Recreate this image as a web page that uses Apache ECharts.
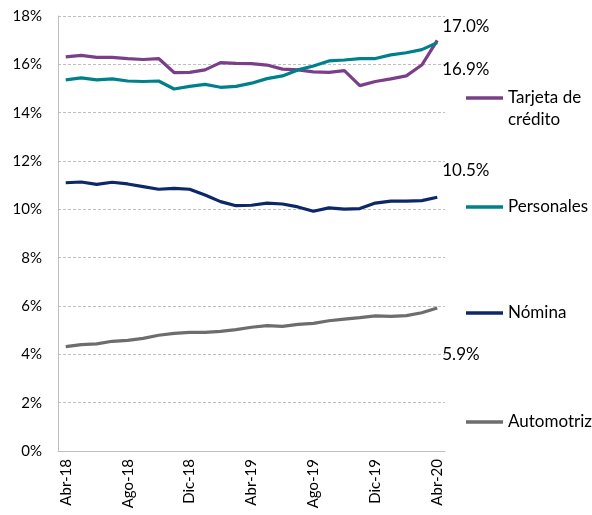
<!DOCTYPE html>
<html>
<head>
<meta charset="utf-8">
<script src="https://cdn.jsdelivr.net/npm/echarts@6/dist/echarts.min.js"></script>
<style>
  html, body { margin: 0; padding: 0; background: #fff; }
  #chart { width: 592px; height: 515px; }
</style>
</head>
<body>
<div id="chart"></div>
<script>
// months, Abr-18 .. Abr-20
const months = [
  'Abr-18', 'May-18', 'Jun-18', 'Jul-18', 'Ago-18', 'Sep-18', 'Oct-18', 'Nov-18', 'Dic-18',
  'Ene-19', 'Feb-19', 'Mar-19', 'Abr-19', 'May-19', 'Jun-19', 'Jul-19', 'Ago-19', 'Sep-19',
  'Oct-19', 'Nov-19', 'Dic-19', 'Ene-20', 'Feb-20', 'Mar-20', 'Abr-20'
];

// rates, %
const tarjeta = [16.31, 16.37, 16.29, 16.29, 16.24, 16.20, 16.24, 15.66, 15.67, 15.77, 16.07, 16.04, 16.03,
  15.97, 15.80, 15.77, 15.69, 15.67, 15.74, 15.12, 15.29, 15.40, 15.52, 15.97, 16.99];
const personales = [15.36, 15.44, 15.36, 15.40, 15.31, 15.29, 15.31, 14.98, 15.09, 15.17, 15.05, 15.09, 15.22,
  15.41, 15.52, 15.77, 15.93, 16.14, 16.18, 16.24, 16.24, 16.39, 16.48, 16.61, 16.90];
const nomina = [11.10, 11.13, 11.03, 11.12, 11.05, 10.94, 10.83, 10.87, 10.83, 10.59, 10.32, 10.15, 10.17,
  10.26, 10.22, 10.10, 9.92, 10.06, 10.01, 10.03, 10.26, 10.34, 10.34, 10.36, 10.50];
const automotriz = [4.32, 4.40, 4.43, 4.54, 4.58, 4.66, 4.79, 4.87, 4.91, 4.91, 4.95, 5.02, 5.12,
  5.19, 5.16, 5.24, 5.28, 5.39, 5.46, 5.52, 5.59, 5.57, 5.60, 5.72, 5.92];

const font = 'Lato, "Open Sans", sans-serif';

// one entry per series: name, data, colour, end label offset, legend top
const lines = [
  { name: 'Tarjeta de crédito', data: tarjeta, color: '#7b3f8a', off: [0, -14], top: 60 },
  { name: 'Personales', data: personales, color: '#00808a', off: [0, 27], top: 191 },
  { name: 'Nómina', data: nomina, color: '#0c2868', off: [0, -27], top: 297 },
  { name: 'Automotriz', data: automotriz, color: '#6d6d6d', off: [0, 47], top: 406 }
];

const chart = echarts.init(document.getElementById('chart'));

chart.setOption({
  animation: false,
  grid: { left: 58, right: 147, top: 16, bottom: 64 },
  legend: lines.map(function (l) {
    // blank first line keeps "Tarjeta de" level with the icon
    let isTwo = l.name === 'Tarjeta de crédito';
    return {
      data: [l.name],
      left: 461,
      top: l.top,
      itemWidth: 37,
      itemHeight: 22,
      itemGap: 0,
      icon: 'path://M0,10h40v4H0z',
      formatter: isTwo ? ' \nTarjeta de\ncrédito' : '{name}',
      textStyle: { fontFamily: font, fontSize: 17, color: '#000', lineHeight: 22 }
    };
  }),
  xAxis: {
    type: 'category',
    data: months,
    boundaryGap: true,
    axisLine: { lineStyle: { color: '#bfbfbf', width: 1 } },
    axisTick: { show: false },
    axisLabel: {
      interval: 3, rotate: 90, fontFamily: font, fontSize: 15, color: '#000', margin: 8
    }
  },
  yAxis: {
    type: 'value',
    min: 0, max: 18, interval: 2,
    axisLine: { show: true, lineStyle: { color: '#bfbfbf', width: 1 } },
    axisTick: { show: false },
    axisLabel: {
      fontFamily: font, fontSize: 15, color: '#000', margin: 16,
      formatter: '{value}%'
    },
    splitLine: { lineStyle: { color: '#bfbfbf', type: [3, 2], width: 1 } }
  },
  series: lines.map(function (l) {
    return {
      name: l.name,
      type: 'line',
      data: l.data,
      color: l.color,
      symbol: 'none',
      lineStyle: { width: 3.2 },
      endLabel: {
        show: true,
        offset: l.off,
        distance: 5,
        fontFamily: font, fontSize: 17, color: '#000',
        formatter: function (p) { return p.value.toFixed(1) + '%'; }
      }
    };
  })
});
</script>
</body>
</html>
